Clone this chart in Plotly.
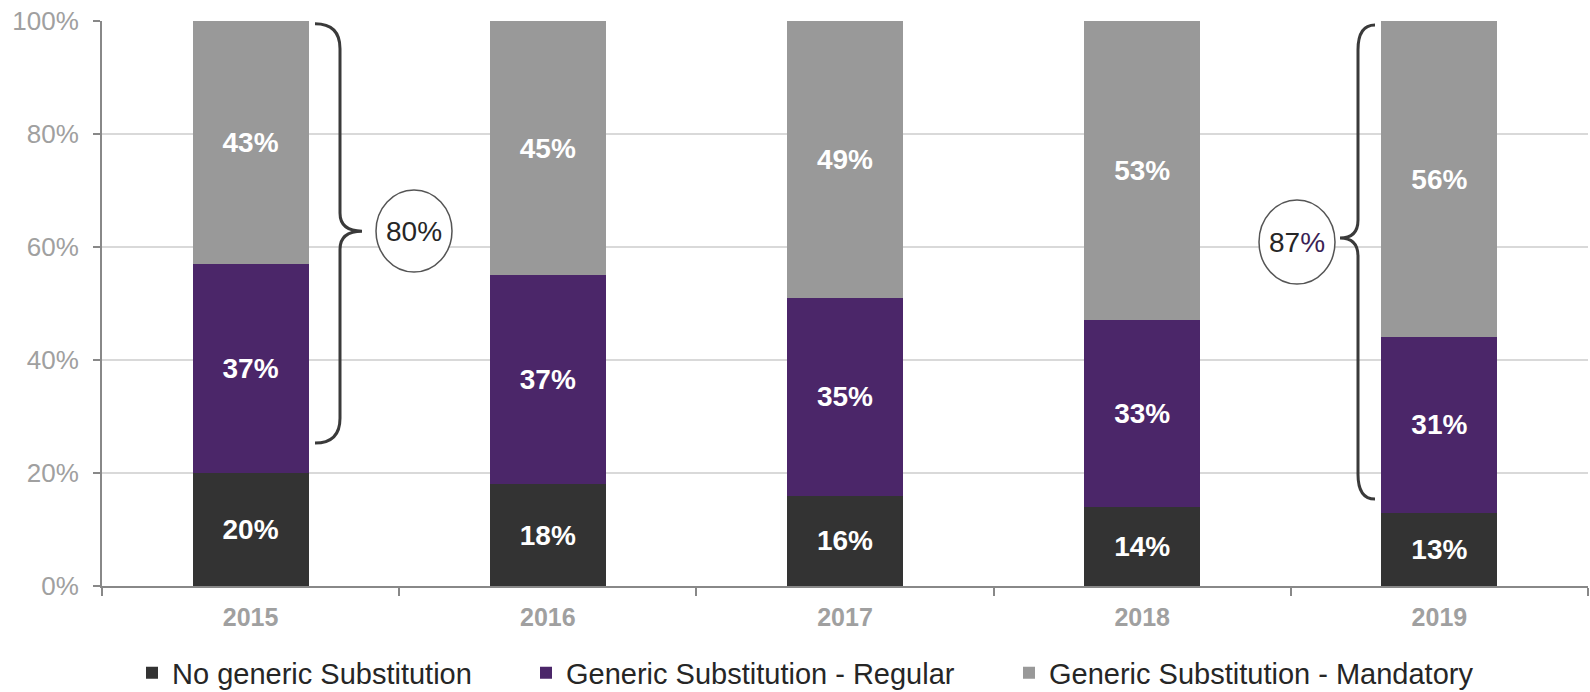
import plotly.graph_objects as go

# ---- data -------------------------------------------------------------
years = ["2015", "2016", "2017", "2018", "2019"]
no_substitution = [20, 18, 16, 14, 13]
regular = [37, 37, 35, 33, 31]
mandatory = [43, 45, 49, 53, 56]
series_names = [
    "No generic Substitution",
    "Generic Substitution - Regular",
    "Generic Substitution - Mandatory",
]
series_colors = ["#333333", "#4B2669", "#999999"]
y_ticks = [0, 20, 40, 60, 80, 100]
y_tick_labels = ["0%", "20%", "40%", "60%", "80%", "100%"]

# ---- canvas geometry ----------------------------------------------------
W, H = 1590, 692
ML, MR, MT, MB = 102, 2, 21, 106
PW, PH = W - ML - MR, H - MT - MB
FONT = "Liberation Sans, Arial, sans-serif"


def px_x(px):
    """horizontal pixel -> paper coordinate"""
    return (px - ML) / PW


def px_y(py):
    """vertical pixel -> data value (0..100)"""
    return (MT + PH - py) / PH * 100


fig = go.Figure()
legends = ["legend", "legend2", "legend3"]
for vals, name, color, lg in zip(
    [no_substitution, regular, mandatory], series_names, series_colors, legends
):
    fig.add_bar(
        x=years,
        y=vals,
        name=name,
        legend=lg,
        marker=dict(color=color, line=dict(width=0)),
        text=[f"{v}%" for v in vals],
        textposition="inside",
        insidetextanchor="middle",
        textangle=0,
        constraintext="none",
        textfont=dict(color="white", size=28, family=FONT, weight="bold"),
        hoverinfo="skip",
    )


# ---- curly braces with circled totals ----------------------------------
def brace_path(x_end, x_v, x_tip, top, bottom, tip, r, r2):
    return (
        f"M {x_end},{top} Q {x_v},{top} {x_v},{top - r} "
        f"L {x_v},{tip + r2} Q {x_v},{tip} {x_tip},{tip} "
        f"Q {x_v},{tip} {x_v},{tip - r2} "
        f"L {x_v},{bottom + r} Q {x_v},{bottom} {x_end},{bottom}"
    )


braces = [
    # (x_end, x_vertical, x_tip) in px, (top, bottom, tip) in %
    dict(xs=(315, 340, 362), ys=(99.5, 25.3, 62.8)),
    dict(xs=(1375, 1358, 1340), ys=(99.3, 15.4, 61.6)),
]
for b in braces:
    xe, xv, xt = (px_x(v) for v in b["xs"])
    top, bot, tip = b["ys"]
    fig.add_shape(
        type="path",
        xref="paper",
        yref="y",
        path=brace_path(xe, xv, xt, top, bot, tip, 4.4, 3.2),
        line=dict(color="#3a3a3a", width=3),
        fillcolor="rgba(0,0,0,0)",
    )

circles = [
    dict(cx=414, cy=231, rx=38, ry=41, text="80%"),
    dict(cx=1297, cy=242, rx=38, ry=42,
         text="87<span style='color:#3b1f55'>%</span>"),
]
for c in circles:
    fig.add_shape(
        type="circle",
        xref="paper",
        yref="y",
        x0=px_x(c["cx"] - c["rx"]),
        x1=px_x(c["cx"] + c["rx"]),
        y0=px_y(c["cy"] + c["ry"]),
        y1=px_y(c["cy"] - c["ry"]),
        line=dict(color="#555555", width=1.5),
        fillcolor="white",
    )
    fig.add_annotation(
        x=px_x(c["cx"]),
        y=px_y(c["cy"]),
        xref="paper",
        yref="y",
        xanchor="center",
        yanchor="middle",
        text=c["text"],
        showarrow=False,
        font=dict(size=28, color="#262626", family=FONT),
    )

# ---- legends (three independently placed entries) ----------------------
legend_text_x = [170, 564, 1047]
leg_common = dict(
    orientation="h",
    yref="container",
    yanchor="middle",
    y=(H - 673) / H,
    xanchor="left",
    bgcolor="rgba(0,0,0,0)",
    borderwidth=0,
    font=dict(size=29, color="#262626", family=FONT),
    itemclick=False,
    itemdoubleclick=False,
)
layout_legends = {}
for lg, tx in zip(legends, legend_text_x):
    layout_legends[lg] = dict(leg_common, x=px_x(tx - 38))

fig.update_layout(
    barmode="stack",
    bargap=0.61,
    width=W,
    height=H,
    margin=dict(l=ML, r=MR, t=MT, b=MB, pad=0, autoexpand=False),
    paper_bgcolor="white",
    plot_bgcolor="white",
    font=dict(family=FONT),
    showlegend=True,
    **layout_legends,
    xaxis=dict(
        showline=True,
        linecolor="#888888",
        linewidth=2,
        ticks="outside",
        tickson="boundaries",
        ticklen=8,
        tickwidth=2,
        tickcolor="#888888",
        tickfont=dict(size=25, color="#a0a0a0", family=FONT, weight="bold"),
        ticklabelstandoff=8,
        showgrid=False,
        fixedrange=True,
    ),
    yaxis=dict(
        range=[0, 100],
        tickvals=y_ticks,
        ticktext=y_tick_labels,
        showline=True,
        linecolor="#888888",
        linewidth=2,
        ticks="outside",
        ticklen=7,
        tickwidth=2,
        tickcolor="#888888",
        tickfont=dict(size=26, color="#a0a0a0", family=FONT),
        ticklabelstandoff=9,
        showgrid=True,
        gridcolor="#d9d9d9",
        gridwidth=2,
        zeroline=False,
        fixedrange=True,
    ),
)

fig.write_html("out.html", config={"displayModeBar": False})
